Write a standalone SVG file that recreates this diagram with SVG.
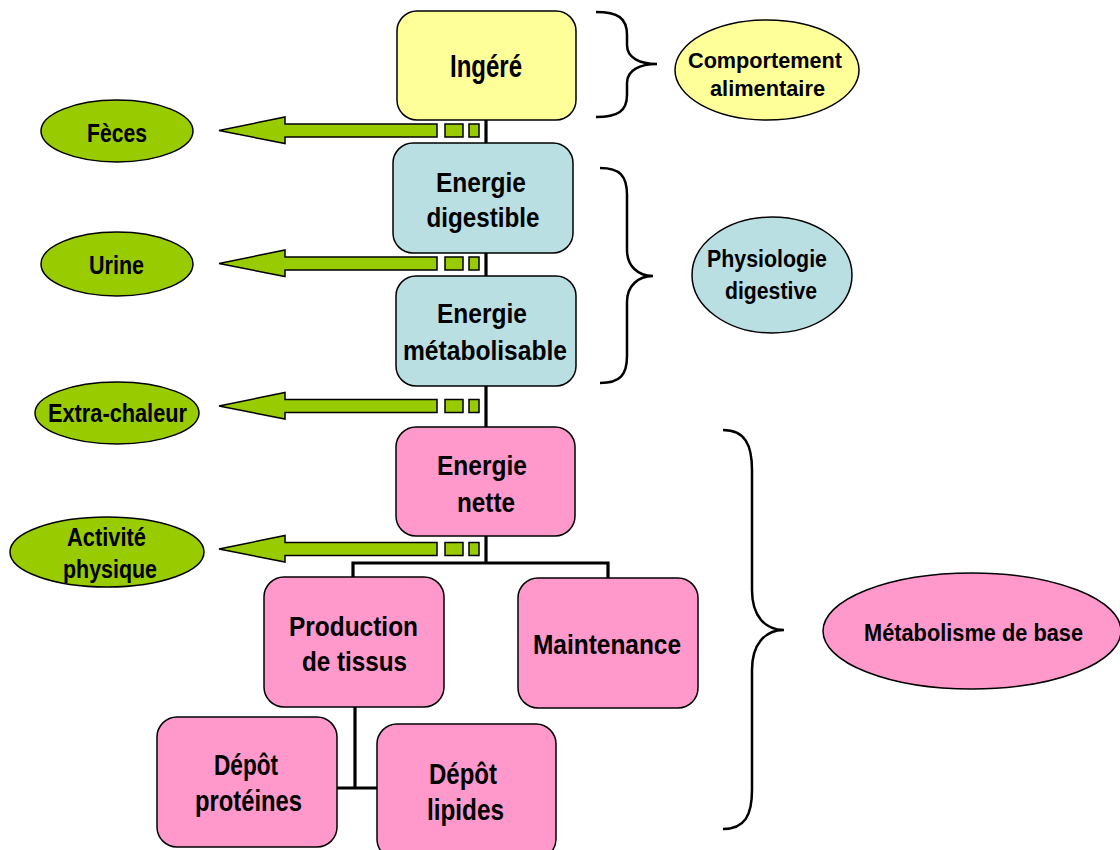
<svg xmlns="http://www.w3.org/2000/svg" width="1120" height="850" viewBox="0 0 1120 850">
<style>
.box{stroke:#000;stroke-width:1.5}
.yel{fill:#FFFF99}
.cy{fill:#B9DFE2}
.pk{fill:#FF99CC}
.gr{fill:#99CC00}
.ell{stroke:#000;stroke-width:1.5}
text{font-family:"Liberation Sans Narrow","Liberation Sans",Arial,sans-serif;font-weight:bold;fill:#000;text-anchor:middle}
.line{stroke:#000;stroke-width:3.2;fill:none}
.brace{stroke:#000;stroke-width:2.5;fill:none}
.arr{fill:#99CC00;stroke:#000;stroke-width:1.5}
</style>
<defs>
<g id="arrow">
<path class="arr" d="M437 -6.5 L285 -6.5 L285 -13.5 L219 0 L285 13 L285 6.5 L437 6.5 Z"/>
<rect class="arr" x="445" y="-6.5" width="18" height="13"/>
<rect class="arr" x="469" y="-6.5" width="10" height="13"/>
</g>
</defs>

<g id="connectors">
<path class="line" d="M486 120 L486 563"/>
<path class="line" d="M353 578 L353 563 L608 563 L608 580"/>
<path class="line" d="M355 707 L355 788 M337 788 L377 788"/>
<use href="#arrow" transform="translate(0,130.5)"/>
<use href="#arrow" transform="translate(0,263.5)"/>
<use href="#arrow" transform="translate(0,406)"/>
<use href="#arrow" transform="translate(0,549)"/>
</g>

<g id="braces">
<path class="brace" d="M596 12 C618 12 627 18 627 35 L627 45 C627 58 640 64 657 64 C640 64 627 70 627 83 L627 95 C627 111 618 117 596 117"/>
<path class="brace" d="M600 168 C620 168 627 176 627 195 L627 250 C627 266 638 276 653 276 C638 276 627 286 627 302 L627 356 C627 375 620 383 600 383"/>
<path class="brace" d="M723 430 C745 430 752 445 752 470 L752 590 C752 616 765 630 784 630 C765 630 752 644 752 670 L752 790 C752 815 745 829 723 829"/>
</g>

<g id="ingere">
<rect class="box yel" x="397" y="11" width="179" height="109" rx="20"/>
<text x="486" y="77" font-size="31" textLength="72" lengthAdjust="spacingAndGlyphs">Ingéré</text>
</g>
<g id="energie-digestible">
<rect class="box cy" x="393" y="143" width="180" height="110" rx="20"/>
<text x="481" y="192" font-size="27" textLength="90" lengthAdjust="spacingAndGlyphs">Energie</text>
<text x="483" y="227" font-size="27" textLength="113" lengthAdjust="spacingAndGlyphs">digestible</text>
</g>
<g id="energie-metabolisable">
<rect class="box cy" x="396" y="276" width="180" height="110" rx="20"/>
<text x="482" y="323" font-size="27" textLength="90" lengthAdjust="spacingAndGlyphs">Energie</text>
<text x="485" y="360" font-size="27" textLength="164" lengthAdjust="spacingAndGlyphs">métabolisable</text>
</g>
<g id="energie-nette">
<rect class="box pk" x="396" y="427" width="179" height="109" rx="20"/>
<text x="482" y="475" font-size="27" textLength="90" lengthAdjust="spacingAndGlyphs">Energie</text>
<text x="486" y="512" font-size="27" textLength="58" lengthAdjust="spacingAndGlyphs">nette</text>
</g>
<g id="production">
<rect class="box pk" x="264" y="577" width="180" height="130" rx="20"/>
<text x="353.5" y="636" font-size="27" textLength="129" lengthAdjust="spacingAndGlyphs">Production</text>
<text x="354.5" y="671" font-size="27" textLength="105" lengthAdjust="spacingAndGlyphs">de tissus</text>
</g>
<g id="maintenance">
<rect class="box pk" x="518" y="578" width="180" height="130" rx="20"/>
<text x="607" y="654" font-size="28" textLength="148" lengthAdjust="spacingAndGlyphs">Maintenance</text>
</g>
<g id="depot-proteines">
<rect class="box pk" x="157" y="717" width="180" height="130" rx="20"/>
<text x="246" y="775" font-size="30" textLength="64" lengthAdjust="spacingAndGlyphs">Dépôt</text>
<text x="248.5" y="811" font-size="30" textLength="107" lengthAdjust="spacingAndGlyphs">protéines</text>
</g>
<g id="depot-lipides">
<rect class="box pk" x="377" y="724" width="179" height="135" rx="20"/>
<text x="463" y="784" font-size="30" textLength="68" lengthAdjust="spacingAndGlyphs">Dépôt</text>
<text x="465.5" y="820" font-size="30" textLength="77" lengthAdjust="spacingAndGlyphs">lipides</text>
</g>

<g id="comportement">
<ellipse class="ell yel" cx="767" cy="70" rx="92" ry="50"/>
<text x="765" y="68" font-size="22" textLength="154" lengthAdjust="spacingAndGlyphs">Comportement</text>
<text x="767.5" y="96" font-size="22" textLength="115" lengthAdjust="spacingAndGlyphs">alimentaire</text>
</g>
<g id="physiologie">
<ellipse class="ell cy" cx="772" cy="275" rx="80" ry="58"/>
<text x="767" y="267" font-size="23" textLength="120" lengthAdjust="spacingAndGlyphs">Physiologie</text>
<text x="771" y="299" font-size="23" textLength="92" lengthAdjust="spacingAndGlyphs">digestive</text>
</g>
<g id="metabolisme">
<ellipse class="ell pk" cx="972" cy="631" rx="149" ry="58"/>
<text x="973.5" y="641" font-size="23" textLength="219" lengthAdjust="spacingAndGlyphs">Métabolisme de base</text>
</g>
<g id="feces">
<ellipse class="ell gr" cx="117" cy="131" rx="76" ry="31"/>
<text x="117" y="142" font-size="25" textLength="60" lengthAdjust="spacingAndGlyphs">Fèces</text>
</g>
<g id="urine">
<ellipse class="ell gr" cx="117" cy="264" rx="76" ry="32"/>
<text x="116.5" y="274" font-size="25" textLength="55" lengthAdjust="spacingAndGlyphs">Urine</text>
</g>
<g id="extra-chaleur">
<ellipse class="ell gr" cx="117" cy="413" rx="82" ry="31"/>
<text x="117.5" y="422" font-size="25" textLength="139" lengthAdjust="spacingAndGlyphs">Extra-chaleur</text>
</g>
<g id="activite">
<ellipse class="ell gr" cx="107" cy="552" rx="97" ry="35"/>
<text x="106.5" y="546" font-size="25" textLength="79" lengthAdjust="spacingAndGlyphs">Activité</text>
<text x="110" y="578" font-size="25" textLength="94" lengthAdjust="spacingAndGlyphs">physique</text>
</g>
</svg>
